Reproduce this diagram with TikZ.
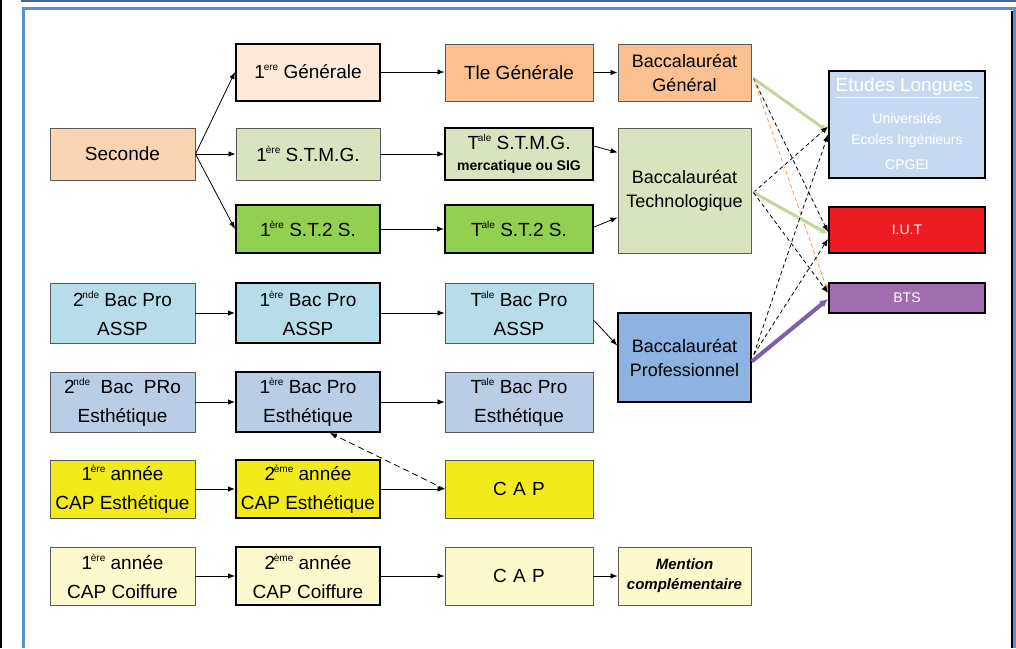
\documentclass[tikz,border=0pt]{standalone}
\usepackage{fontspec}
\setmainfont{Liberation Sans}
\usetikzlibrary{arrows.meta,calc}
\definecolor{frameblue}{HTML}{5B8FD0}
\definecolor{darkblue}{HTML}{4A6692}
\definecolor{cSec}{HTML}{FBD4B4}
\definecolor{cGen}{HTML}{FDE9D9}
\definecolor{cOr}{HTML}{FAC08F}
\definecolor{cLG}{HTML}{D7E4BD}
\definecolor{cG}{HTML}{92D050}
\definecolor{cEt}{HTML}{C6D9F1}
\definecolor{cIUT}{HTML}{ED1C24}
\definecolor{cBTS}{HTML}{A06EAE}
\definecolor{cAS}{HTML}{B7DEE8}
\definecolor{cBP}{HTML}{8DB3E2}
\definecolor{cEs}{HTML}{B9CDE5}
\definecolor{cY}{HTML}{F2EA1A}
\definecolor{cLY}{HTML}{FCF9CC}
\definecolor{bordergray}{HTML}{5A5A5A}
\definecolor{lgline}{HTML}{C3D69B}
\definecolor{orline}{HTML}{F79646}
\definecolor{puline}{HTML}{7F5FA8}
\tikzset{
  box/.style={draw=bordergray, line width=0.9pt, align=center, inner sep=0pt,
    font=\fontsize{19}{29}\selectfont, text=black},
  thickbox/.style={box, draw=black, line width=2pt},
  arr/.style={-{Latex[length=7pt,width=5.5pt]}, line width=0.8pt, black},
  darr/.style={arr, dash pattern=on 4pt off 3pt},
}
\newcommand{\sups}[1]{\kern-0.06em\raisebox{0.42em}{\fontsize{10}{10}\selectfont #1}}
\begin{document}
\begin{tikzpicture}[x=1pt,y=-1pt]
\useasboundingbox (0,0) rectangle (1016,648);
\fill[white] (0,0) rectangle (1016,648);
% frame
\draw[black, line width=1.5pt] (1,0) -- (1,648);
\draw[darkblue, line width=2.5pt] (21,1.2) -- (1016,1.2);
\draw[frameblue, line width=3pt] (23.5,648) -- (23.5,8.5) -- (1014.5,8.5) -- (1014.5,648);
\draw[black, line width=1.5pt] (1012,11) -- (1012,648);

% column 1
\node[box, fill=cSec, minimum width=145pt, minimum height=52pt] (sec) at (122.5,154) {Seconde};
\node[box, fill=cAS, minimum width=145pt, minimum height=60pt] (asspA) at (122.5,313) {2\sups{nde} Bac Pro\\ASSP};
\node[box, fill=cEs, minimum width=145pt, minimum height=60pt] (estA) at (122.5,402) {2\sups{nde}\ \ Bac\ \ PRo\\Esthétique};
\node[box, fill=cY, minimum width=145pt, minimum height=58pt] (capeA) at (122.5,489) {1\sups{ère} année\\CAP Esthétique};
\node[box, fill=cLY, minimum width=145pt, minimum height=58pt] (capcA) at (122.5,576) {1\sups{ère} année\\CAP Coiffure};

% column 2
\node[thickbox, fill=cGen, minimum width=144pt, minimum height=57pt] (gen1) at (308,72) {1\sups{ere} Générale};
\node[box, fill=cLG, minimum width=144pt, minimum height=52pt] (stmg1) at (308,154) {1\sups{ère} S.T.M.G.};
\node[thickbox, fill=cG, minimum width=144pt, minimum height=48pt] (sts1) at (308,229) {1\sups{ère} S.T.2 S.};
\node[thickbox, fill=cAS, minimum width=144pt, minimum height=60pt] (asspB) at (308,313) {1\sups{ère} Bac Pro\\ASSP};
\node[thickbox, fill=cEs, minimum width=144pt, minimum height=60pt] (estB) at (308,402) {1\sups{ère} Bac Pro\\Esthétique};
\node[thickbox, fill=cY, minimum width=144pt, minimum height=58pt] (capeB) at (308,489) {2\sups{ème} année\\CAP Esthétique};
\node[thickbox, fill=cLY, minimum width=144pt, minimum height=58pt] (capcB) at (308,576) {2\sups{ème} année\\CAP Coiffure};

% column 3
\node[box, fill=cOr, minimum width=148pt, minimum height=57pt] (genT) at (519,72.5) {Tle Générale};
\node[box, draw=black, line width=1.4pt, fill=cLG, minimum width=148pt, minimum height=52pt, font=\fontsize{19}{21}\selectfont] (stmgT) at (519,154) {T\sups{ale} S.T.M.G.\\{\fontsize{14}{16}\selectfont\bfseries mercatique ou SIG}};
\node[thickbox, fill=cG, minimum width=148pt, minimum height=48pt] (stsT) at (519,229) {T\sups{ale} S.T.2 S.};
\node[box, fill=cAS, minimum width=148pt, minimum height=60pt] (asspC) at (519,313) {T\sups{ale} Bac Pro\\ASSP};
\node[box, fill=cEs, minimum width=148pt, minimum height=60pt] (estC) at (519,402) {T\sups{ale} Bac Pro\\Esthétique};
\node[box, fill=cY, minimum width=148pt, minimum height=58pt, font=\fontsize{19}{22}\selectfont] (capeC) at (519,489) {C\,\,A\,\,P};
\node[box, fill=cLY, minimum width=148pt, minimum height=58pt, font=\fontsize{19}{22}\selectfont] (capcC) at (519,576) {C\,\,A\,\,P};

% column 4
\node[box, fill=cOr, minimum width=133pt, minimum height=57pt, font=\fontsize{18}{24}\selectfont] (bacG) at (684.5,72.5) {Baccalauréat\\Général};
\node[box, fill=cLG, minimum width=133pt, minimum height=125pt, font=\fontsize{18}{24}\selectfont] (bacT) at (684.5,190.5) {Baccalauréat\\Technologique};
\node[box, draw=black, line width=1.5pt, fill=cBP, minimum width=133pt, minimum height=89pt, font=\fontsize{18}{24}\selectfont] (bacP) at (684.5,357.5) {Baccalauréat\\Professionnel};
\node[box, fill=cLY, minimum width=133pt, minimum height=58pt, font=\fontsize{15}{20}\selectfont\bfseries\itshape] (mention) at (684.5,576) {Mention\\complémentaire};

% column 5
\node[thickbox, fill=cEt, minimum width=156pt, minimum height=107pt] (etudes) at (907,124.5) {};
\node[text=white, font=\fontsize{19}{22}\selectfont, inner sep=0pt] (etT) at (907,88) {\underline{Etudes Longues\ }};
\node[text=white, font=\fontsize{14}{16}\selectfont, inner sep=0pt] (etU) at (907,118) {Universités};
\node[text=white, font=\fontsize{14}{16}\selectfont, inner sep=0pt] (etE) at (907,141) {Ecoles Ingénieurs};
\node[text=white, font=\fontsize{14}{16}\selectfont, inner sep=0pt] (etC) at (907,165) {CPGEI};
\node[thickbox, fill=cIUT, text=white, minimum width=156pt, minimum height=46pt, font=\fontsize{14}{16}\selectfont] (iut) at (907,230) {I.U.T};
\node[thickbox, fill=cBTS, text=white, minimum width=156pt, minimum height=30pt, font=\fontsize{14}{16}\selectfont] (bts) at (907,298) {BTS};

% arrows left part
\draw[arr] (sec.east) -- (gen1.west);
\draw[arr] (sec.east) -- (stmg1.west);
\draw[arr] (sec.east) -- (sts1.west);
\draw[arr] (gen1.east) -- (genT.west |- gen1.east);
\draw[arr] (genT.east) -- (bacG.west);
\draw[arr] (stmg1.east) -- (stmgT.west);
\draw[arr] ($(stmgT.east)+(0,-8)$) -- ($(bacT.west)+(0,-38)$);
\draw[arr] (sts1.east) -- (stsT.west);
\draw[arr] ($(stsT.east)+(0,-2)$) -- ($(bacT.west)+(0,27)$);
\draw[arr] (asspA.east) -- (asspB.west);
\draw[arr] (asspB.east) -- (asspC.west);
\draw[arr] ($(asspC.east)+(0,7)$) -- ($(bacP.west)+(0,-12)$);
\draw[arr] (estA.east) -- (estB.west);
\draw[arr] (estB.east) -- (estC.west);
\draw[arr] (capeA.east) -- (capeB.west);
\draw[arr] (capeB.east) -- (capeC.west);
\draw[arr] (capcA.east) -- (capcB.west);
\draw[arr] (capcB.east) -- (capcC.west);
\draw[arr] (capcC.east) -- (mention.west);
\draw[arr, dash pattern=on 6pt off 4pt] (capeC.west) -- ($(estB.south)+(22,0)$);

% right part
\coordinate (gS) at ($(bacG.east)+(2,6)$);
\coordinate (tS) at ($(bacT.east)+(2,2)$);
\coordinate (pS) at ($(bacP.east)+(2,-3)$);
\coordinate (pS2) at ($(bacP.east)+(0,4)$);
\draw[lgline, line width=3pt, -{Latex[length=8pt,width=7pt]}] (gS) -- ($(etudes.west)+(0,7)$);
\draw[darr] (gS) -- ($(iut.west)+(0,2)$);
\draw[orline, line width=0.8pt, dash pattern=on 4pt off 3pt, -{Latex[length=7pt,width=5pt]}] (gS) -- ($(bts.west)+(0,-6)$);
\draw[darr] (tS) -- ($(etudes.west)+(0,2)$);
\draw[lgline, line width=3pt, -{Latex[length=8pt,width=7pt]}] (tS) -- ($(iut.west)+(0,4)$);
\draw[darr] (tS) -- ($(bts.west)+(0,-5)$);
\draw[darr] (pS) -- ($(etudes.west)+(0,10)$);
\draw[darr] (pS) -- ($(iut.west)+(0,9)$);
\draw[puline, line width=4pt, -{Latex[length=8pt,width=8pt]}] (pS2) -- ($(bts.west)+(0,1)$);
\end{tikzpicture}
\end{document}
